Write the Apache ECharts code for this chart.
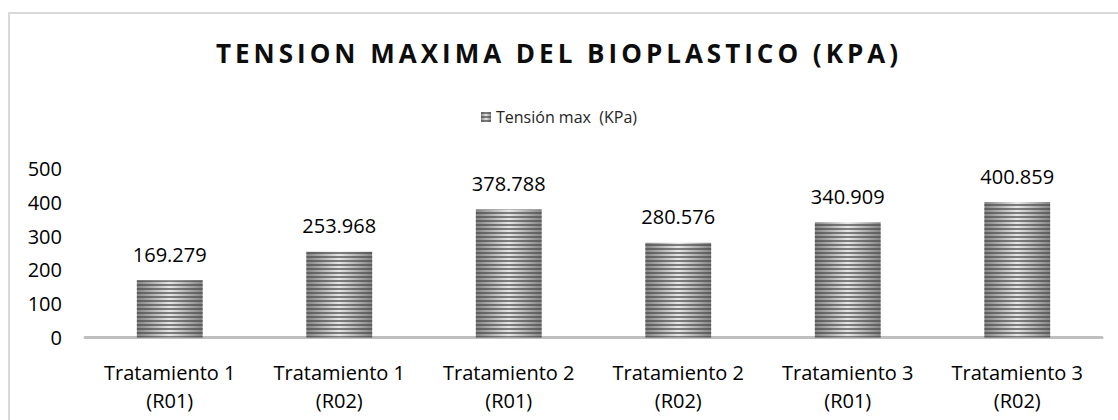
<!DOCTYPE html>
<html>
<head>
<meta charset="utf-8">
<script src="https://cdn.jsdelivr.net/npm/echarts@6/dist/echarts.min.js"></script>
<style>
  html, body { margin: 0; padding: 0; background: #ffffff; }
  #wrap { position: relative; width: 1118px; height: 420px; overflow: hidden; }
  #frame {
    position: absolute; left: 8px; top: 12px; width: 1120px; height: 430px;
    border: 2px solid #d9d9d9; box-sizing: border-box; pointer-events: none;
  }
  #title {
    position: absolute; left: 0; top: 38px; width: 1118px; text-align: center;
    font-family: 'Open Sans', sans-serif; font-weight: bold; font-size: 26px;
    line-height: 30px; letter-spacing: 4px; color: #0d0d0d;
  }
  #chart { position: absolute; left: 0; top: 0; width: 1118px; height: 420px; }
</style>
</head>
<body>
<div id="wrap">
  <div id="chart"></div>
  <div id="frame"></div>
  <div id="title">TENSION MAXIMA DEL BIOPLASTICO (KPA)</div>
</div>
<script>
// datos
const categories = [
  'Tratamiento 1\n(R01)',
  'Tratamiento 1\n(R02)',
  'Tratamiento 2\n(R01)',
  'Tratamiento 2\n(R02)',
  'Tratamiento 3\n(R01)',
  'Tratamiento 3\n(R02)'
];
const tensionMax = [169.279, 253.968, 378.788, 280.576, 340.909, 400.859];
const yTicks = [0, 100, 200, 300, 400, 500];

const font = "'Open Sans', sans-serif";
const myChart = echarts.init(document.getElementById('chart'), null, { renderer: 'svg' });

// sombreado cilindrico + rayas horizontales
const barColor = new echarts.graphic.LinearGradient(0, 0, 1, 0, [
  { offset: 0, color: '#858585' },
  { offset: 0.5, color: '#e6e6e6' },
  { offset: 1, color: '#858585' }
]);

const option = {
  animation: false,
  aria: { enabled: true, decal: { show: false } },
  grid: {
    left: 85,
    right: 16,
    top: 168.5,
    bottom: 82.5,
    containLabel: false
  },
  legend: {
    show: true,
    top: 104,
    left: 'center',
    itemWidth: 10,
    itemHeight: 10,
    itemGap: 6,
    icon: 'rect',
    textStyle: { fontFamily: font, fontSize: 16, color: '#262626' },
    data: ['Tensión max  (KPa)']
  },
  xAxis: {
    type: 'category',
    data: categories,
    axisLine: { lineStyle: { color: '#bfbfbf', width: 3 } },
    axisTick: { show: false },
    axisLabel: {
      fontFamily: font,
      fontSize: 20,
      lineHeight: 28,
      color: '#000000',
      margin: 21,
      interval: 0
    }
  },
  yAxis: {
    type: 'value',
    min: yTicks[0],
    max: yTicks[yTicks.length - 1],
    interval: 100,
    axisLine: { show: false },
    axisTick: { show: false },
    splitLine: { show: false },
    axisLabel: {
      fontFamily: font,
      fontSize: 20,
      color: '#000000',
      margin: 23
    }
  },
  series: [
    {
      type: 'bar',
      name: 'Tensión max  (KPa)',
      data: tensionMax,
      barWidth: '38.8%',
      itemStyle: {
        color: barColor,
        decal: {
          symbol: 'rect',
          symbolSize: 1,
          dashArrayX: [1, 0],
          dashArrayY: [2, 2],
          rotation: 0,
          color: 'rgba(70,70,70,0.65)'
        }
      },
      label: {
        show: true,
        position: 'top',
        distance: 16,
        fontFamily: font,
        fontSize: 20,
        color: '#000000',
        formatter: (p) => p.value.toFixed(3)
      }
    }
  ]
};

myChart.setOption(option);
</script>
</body>
</html>
